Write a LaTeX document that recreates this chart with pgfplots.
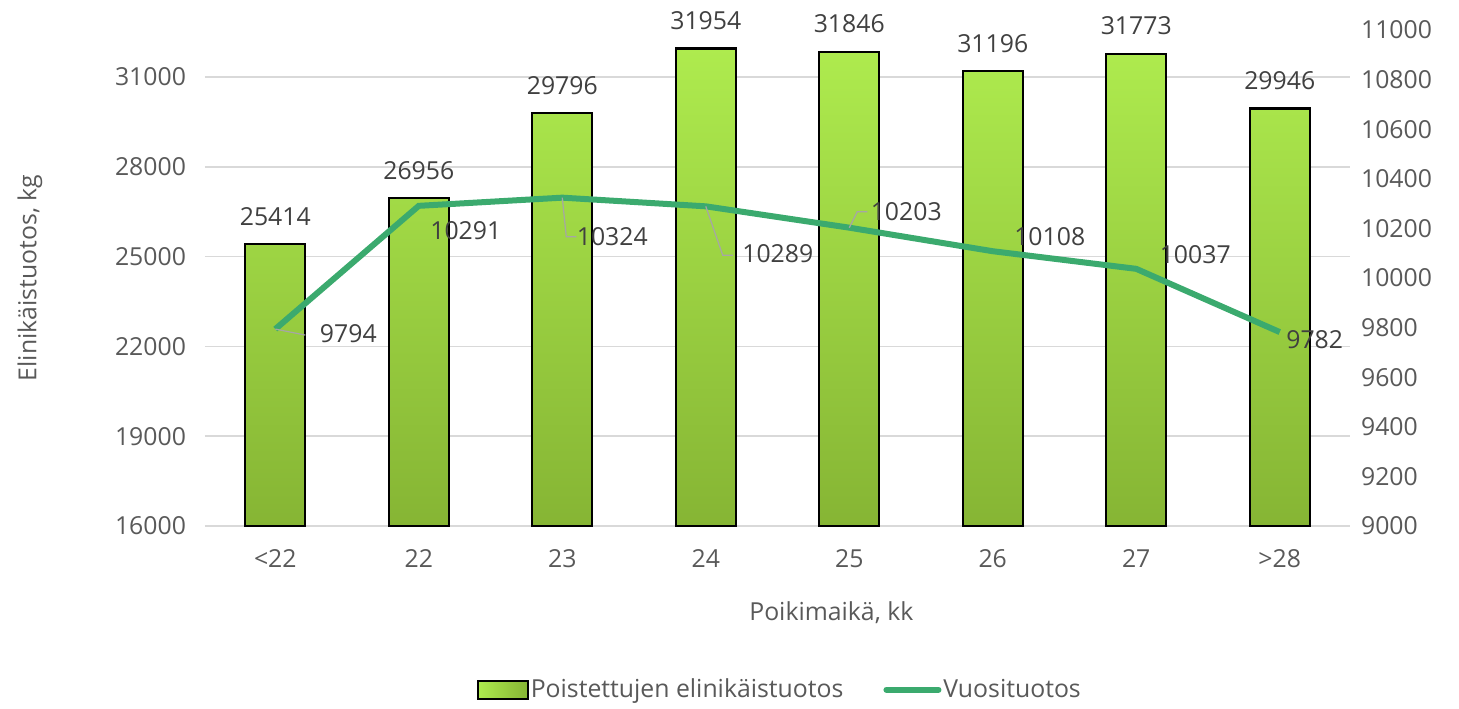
\documentclass[border=0pt]{standalone}
\usepackage{fontspec}
\setmainfont{Open Sans}
\usepackage{pgfplots}
\pgfplotsset{compat=1.18}
\definecolor{txt}{HTML}{595959}
\definecolor{lbl}{HTML}{404040}
\definecolor{gridc}{HTML}{D9D9D9}
\definecolor{bartop}{HTML}{AEEB4E}
\definecolor{barbot}{HTML}{86B534}
\definecolor{linec}{HTML}{3BAA6E}

\pgfplotstableread{
x y
0 25414
1 26956
2 29796
3 31954
4 31846
5 31196
6 31773
7 29946
}\bars

\pgfplotstableread{
x y dx dy
0 9794 36.5 -2.5
1 10291 23.5 -12.5
2 10324 25 -19.5
3 10289 36 -23.5
4 10203 28.5 8
5 10108 28.5 7.5
6 10037 29.5 7
7 9782 17.5 -4
}\yearly

\pgfplotsset{
  base/.style={
    width=572.5pt, height=248pt, scale only axis,
    xmin=-0.49, xmax=7.49,
    major tick length=0pt,
    tick label style={font=\fontsize{12.4}{15}\selectfont, text=txt},
    /pgf/number format/assume math mode=true,
    /pgf/number format/1000 sep={},
    scaled y ticks=false,
  }
}

\begin{document}
\begin{tikzpicture}[font=\fontsize{12.4}{15}\selectfont]
\begin{axis}[base,
  ymin=16000, ymax=32570,
  ytick={16000,19000,22000,25000,28000,31000},
  ymajorgrids, grid style={gridc, line width=0.75pt},
  axis x line*=bottom, axis y line*=left,
  y axis line style={draw=none},
  x axis line style={gridc, line width=0.75pt, -},
  xtick={0,...,7},
  xticklabels={<22,22,23,24,25,26,27,>28},
  xticklabel style={yshift=-8pt},
  yticklabel style={xshift=-6pt},
  ylabel={Elinikäistuotos, kg},
  ylabel style={at={(axis description cs:-0.153,0.5)}, anchor=center, text=txt},
  xlabel={Poikimaikä, kk},
  xlabel style={at={(axis description cs:0.547,-0.175)}, anchor=center, text=txt},
  ybar, bar width=30pt,
  nodes near coords,
  every node near coord/.append style={text=lbl, yshift=5.5pt},
]
\addplot[draw=black, line width=1.1pt, top color=bartop, bottom color=barbot] table[x=x, y=y] {\bars};
\end{axis}

\begin{axis}[base,
  ymin=9000, ymax=11000,
  ytick={9000,9200,...,11000},
  axis y line*=right, axis x line=none,
  y axis line style={draw=none},
  yticklabel style={xshift=2pt},
  legend style={draw=none, at={(axis description cs:0.502,-0.33)}, anchor=center,
    legend columns=2, text=txt, nodes={inner sep=1pt},
    /tikz/every even column/.append style={column sep=19pt}},
  legend cell align=left,
]
\addlegendimage{legend image code/.code={\draw[draw=black, line width=1pt, left color=bartop, right color=barbot] (0pt,-4.5pt) rectangle (25pt,4.5pt);}}
\addlegendentry{Poistettujen elinikäistuotos}
\addplot[linec, line width=3pt, mark=none,
  legend image code/.code={\draw[linec, line width=3pt, line cap=round] (0pt,0pt) -- (26pt,0pt);},
  visualization depends on={\thisrow{dx}\as\dx},
  visualization depends on={\thisrow{dy}\as\dy},
  nodes near coords,
  every node near coord/.append style={text=lbl, anchor=center, xshift=\dx pt, yshift=\dy pt},
] table[x=x, y=y] {\yearly};
\addlegendentry{Vuosituotos}
\draw[gray!70, line width=0.6pt] (axis cs:0,9794) -- ++(15pt,-3pt);
\draw[gray!70, line width=0.6pt] (axis cs:2,10324) -- ++(2pt,-19.5pt) -- ++(5pt,0pt);
\draw[gray!70, line width=0.6pt] (axis cs:3,10289) -- ++(8.5pt,-24.5pt) -- ++(5pt,0pt);
\draw[gray!70, line width=0.6pt] (axis cs:4,10203) -- ++(4pt,8pt) -- ++(5pt,0pt);
\end{axis}
\path (-102.5pt,-91pt) rectangle (627pt,263pt);
\end{tikzpicture}
\end{document}
